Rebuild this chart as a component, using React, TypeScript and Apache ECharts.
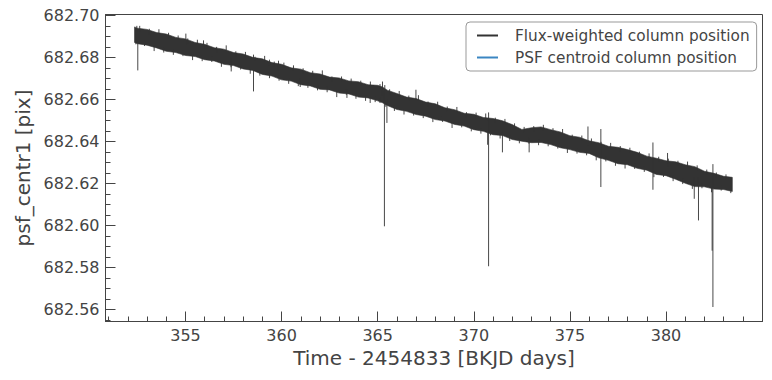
import React, { useEffect, useRef } from "react";
import * as echarts from "echarts";

// Envelope of the dense flux-weighted column position band
const bandT = [352.35, 352.5, 353.0, 353.5, 354.0, 354.5, 355.0, 355.5, 356.0, 356.5, 357.0, 357.5, 358.0, 358.5, 359.0, 359.5, 360.0, 360.5, 361.0, 361.5, 362.0, 362.5, 363.0, 363.5, 364.0, 364.5, 365.0, 365.25, 365.5, 366.0, 366.5, 367.0, 367.5, 368.0, 368.5, 369.0, 369.5, 370.0, 370.5, 371.0, 371.5, 372.0, 372.5, 373.0, 373.5, 374.0, 374.5, 375.0, 375.5, 376.0, 376.5, 377.0, 377.5, 378.0, 378.5, 379.0, 379.5, 380.0, 380.5, 381.0, 381.5, 382.0, 382.5, 383.0, 383.45];
const bandHi = [682.6946, 682.694, 682.6934, 682.6919, 682.6912, 682.6896, 682.6889, 682.6872, 682.6863, 682.6847, 682.684, 682.6824, 682.6817, 682.6801, 682.6794, 682.6776, 682.6768, 682.6751, 682.6745, 682.6728, 682.6722, 682.6707, 682.6703, 682.6689, 682.6685, 682.6671, 682.6668, 682.666, 682.6645, 682.6629, 682.6612, 682.6605, 682.6588, 682.658, 682.6561, 682.6552, 682.6535, 682.653, 682.6515, 682.651, 682.6499, 682.6481, 682.6458, 682.6466, 682.647, 682.6457, 682.6446, 682.6428, 682.6421, 682.6404, 682.6395, 682.6378, 682.6373, 682.6362, 682.6349, 682.6331, 682.6321, 682.6309, 682.6304, 682.629, 682.6281, 682.6259, 682.6249, 682.6235, 682.623];
const bandLo = [682.6872, 682.6866, 682.6859, 682.6846, 682.683, 682.6824, 682.681, 682.6805, 682.679, 682.6784, 682.6768, 682.6762, 682.6746, 682.6739, 682.672, 682.6712, 682.6694, 682.6688, 682.6671, 682.6665, 682.6649, 682.6646, 682.6631, 682.6627, 682.6612, 682.6608, 682.6594, 682.6585, 682.6572, 682.6553, 682.6544, 682.6529, 682.6521, 682.6505, 682.6498, 682.6482, 682.6474, 682.6457, 682.6449, 682.6433, 682.6429, 682.641, 682.6402, 682.6395, 682.6396, 682.6386, 682.6371, 682.6362, 682.6349, 682.6344, 682.6323, 682.6311, 682.6295, 682.629, 682.6273, 682.6264, 682.6244, 682.6238, 682.6221, 682.6202, 682.6186, 682.6185, 682.6174, 682.6172, 682.6163];

// Individual outlier excursions (time, upper end, lower end)
const spikeT = [352.52, 355.02, 355.94, 357.38, 358.54, 359.37, 359.84, 360.97, 363.4, 364.61, 365.25, 365.35, 365.48, 366.99, 370.77, 370.72, 371.49, 372.88, 375.94, 376.61, 379.32, 380.08, 381.47, 381.69, 382.44, 382.4];
const spikeHi = [682.688, 682.6914, 682.6882, 682.68, 682.6814, 682.679, 682.6785, 682.67, 682.665, 682.664, 682.6686, 682.664, 682.66, 682.6647, 682.6539, 682.65, 682.645, 682.642, 682.6472, 682.646, 682.6396, 682.6346, 682.623, 682.623, 682.6293, 682.625];
const spikeLo = [682.6739, 682.686, 682.684, 682.6734, 682.6639, 682.676, 682.674, 682.666, 682.6608, 682.6584, 682.662, 682.5997, 682.6489, 682.66, 682.5807, 682.6385, 682.6349, 682.6349, 682.638, 682.6184, 682.6171, 682.628, 682.6128, 682.6025, 682.5613, 682.5881];

// Short noise excursions above the band (time, tip value)
const hairUpT = [352.47, 352.62, 353.12, 353.62, 354.12, 354.62, 355.12, 355.62, 356.12, 356.62, 357.12, 357.62, 358.12, 358.62, 359.12, 359.62, 360.12, 360.62, 361.12, 361.62, 362.12, 362.62, 363.12, 363.62, 364.12, 364.62, 365.12, 365.37, 365.62, 366.12, 366.62, 367.12, 367.62, 368.12, 368.62, 369.12, 369.62, 370.12, 370.62, 371.12, 371.62, 372.12, 372.62, 373.12, 373.62, 374.12, 374.62, 375.12, 375.62, 376.12, 376.62, 377.12, 377.62, 378.12, 378.62, 379.12, 379.62, 380.12, 380.62, 381.12, 381.62, 382.12, 382.62, 383.12];
const hairUpV = [682.6951, 682.6951, 682.6937, 682.6935, 682.6918, 682.6905, 682.6891, 682.6885, 682.687, 682.6851, 682.6858, 682.683, 682.6827, 682.6804, 682.6808, 682.6781, 682.6776, 682.6763, 682.6749, 682.6737, 682.6739, 682.671, 682.671, 682.67, 682.669, 682.6686, 682.6674, 682.6669, 682.6649, 682.6641, 682.6619, 682.6621, 682.6591, 682.659, 682.6567, 682.6565, 682.654, 682.6538, 682.6534, 682.6514, 682.6508, 682.6487, 682.647, 682.6474, 682.648, 682.6464, 682.646, 682.6433, 682.6429, 682.6415, 682.6399, 682.6394, 682.6379, 682.6371, 682.6352, 682.6344, 682.6328, 682.6319, 682.6309, 682.6305, 682.6287, 682.6267, 682.6253, 682.6244];
// Short noise excursions below the band (time, tip value)
const hairDnT = [352.42, 352.87, 353.37, 353.87, 354.37, 354.87, 355.37, 355.87, 356.37, 356.87, 357.37, 357.87, 358.37, 358.87, 359.37, 359.87, 360.37, 360.87, 361.37, 361.87, 362.37, 362.87, 363.37, 363.87, 364.37, 364.87, 365.12, 365.42, 365.87, 366.37, 366.87, 367.37, 367.87, 368.37, 368.87, 369.37, 369.87, 370.37, 370.87, 371.37, 371.87, 372.37, 372.87, 373.37, 373.87, 374.37, 374.87, 375.37, 375.87, 376.37, 376.87, 377.37, 377.87, 378.37, 378.87, 379.37, 379.87, 380.37, 380.87, 381.37, 381.87, 382.37, 382.87, 383.37];
const hairDnV = [682.6863, 682.6855, 682.6831, 682.6824, 682.6813, 682.6807, 682.6788, 682.6783, 682.6779, 682.6756, 682.6754, 682.6743, 682.6723, 682.6714, 682.6702, 682.669, 682.6675, 682.6664, 682.6656, 682.6644, 682.6635, 682.6612, 682.6623, 682.6604, 682.6594, 682.6588, 682.6584, 682.6566, 682.6546, 682.6529, 682.6524, 682.6512, 682.6493, 682.6494, 682.6465, 682.6468, 682.6449, 682.6438, 682.643, 682.6415, 682.6403, 682.6392, 682.639, 682.6383, 682.6378, 682.6367, 682.6346, 682.6343, 682.6335, 682.6311, 682.6306, 682.6285, 682.6272, 682.627, 682.6256, 682.6231, 682.6232, 682.6212, 682.6198, 682.6175, 682.6178, 682.6159, 682.6167, 682.6155];

const psfT: number[] = [];
const psfV: number[] = [];

const xMajor = [355, 360, 365, 370, 375, 380];
const xMinor = [351, 352, 353, 354, 356, 357, 358, 359, 361, 362, 363, 364, 366, 367, 368, 369, 371, 372, 373, 374, 376, 377, 378, 379, 381, 382, 383, 384];
const yMajor = [682.56, 682.58, 682.6, 682.62, 682.64, 682.66, 682.68, 682.7];
const yMinor = [682.555, 682.565, 682.57, 682.575, 682.585, 682.59, 682.595, 682.605, 682.61, 682.615, 682.625, 682.63, 682.635, 682.645, 682.65, 682.655, 682.665, 682.67, 682.675, 682.685, 682.69, 682.695];

const X_MIN = 350.84;
const X_MAX = 385.02;
const Y_MIN = 682.5544;
const Y_MAX = 682.7005;
const HAIR_LEN = 0.0025;

const FONT = "DejaVu Sans";
const AXIS_COLOR = "#444";
const INK = "#333333";
const PSF_BLUE = "#3b86c2";

export default function App() {
  const ref = useRef<HTMLDivElement>(null);
  useEffect(() => {
    if (!ref.current) return;
    const chart = echarts.init(ref.current, undefined, { renderer: "svg" });

    const spikeData: any[] = [];
    spikeT.forEach((t, i) => {
      spikeData.push([t, spikeHi[i]], [t, spikeLo[i]], [t, "-"]);
    });
    const hairData: any[] = [];
    hairUpT.forEach((t, i) => {
      hairData.push([t, hairUpV[i]], [t, hairUpV[i] - HAIR_LEN], [t, "-"]);
    });
    hairDnT.forEach((t, i) => {
      hairData.push([t, hairDnV[i]], [t, hairDnV[i] + HAIR_LEN], [t, "-"]);
    });

    const baseX = { type: "value", min: X_MIN, max: X_MAX, position: "bottom", splitLine: { show: false } };
    const baseY = { type: "value", min: Y_MIN, max: Y_MAX, position: "left", splitLine: { show: false } };

    chart.setOption({
      animation: false,
      backgroundColor: "#ffffff",
      grid: {
        left: 105.5,
        top: 14.5,
        right: 9.5,
        bottom: 58.5,
        show: true,
        borderColor: AXIS_COLOR,
        borderWidth: 1,
        backgroundColor: "transparent",
      },
      legend: {
        data: ["Flux-weighted column position", "PSF centroid column position"],
        orient: "vertical",
        left: 466,
        top: 22,
        itemWidth: 21,
        itemHeight: 14,
        itemGap: 7,
        padding: [6, 7, 6, 10],
        borderColor: "#999",
        borderWidth: 1,
        borderRadius: 4,
        backgroundColor: "rgba(255,255,255,0.85)",
        itemStyle: { opacity: 0 },
        textStyle: { fontFamily: FONT, fontSize: 15.3, color: "#444", padding: [0, 0, 0, 12] },
      },
      xAxis: [
        {
          ...baseX,
          name: "Time - 2454833 [BKJD days]",
          nameLocation: "middle",
          nameGap: 26,
          nameTextStyle: { fontFamily: FONT, fontSize: 20, color: "#444" },
          axisLine: { show: true, onZero: false, lineStyle: { color: AXIS_COLOR, width: 1 } },
          axisTick: { show: true, inside: true, length: 10, customValues: xMajor, lineStyle: { color: AXIS_COLOR, width: 1 } },
          axisLabel: { show: true, customValues: xMajor, margin: 6, fontFamily: FONT, fontSize: 16, color: "#444", formatter: (v: number) => String(Math.round(v)) },
        },
        {
          ...baseX,
          axisLine: { show: false, onZero: false },
          axisTick: { show: true, inside: true, length: 5, customValues: xMinor, lineStyle: { color: AXIS_COLOR, width: 1 } },
          axisLabel: { show: false },
        },
      ],
      yAxis: [
        {
          ...baseY,
          name: "psf_centr1 [pix]",
          nameLocation: "middle",
          nameGap: 73,
          nameTextStyle: { fontFamily: FONT, fontSize: 20, color: "#444" },
          axisLine: { show: true, onZero: false, lineStyle: { color: AXIS_COLOR, width: 1 } },
          axisTick: { show: true, inside: true, length: 10, customValues: yMajor, lineStyle: { color: AXIS_COLOR, width: 1 } },
          axisLabel: { show: true, customValues: yMajor, margin: 6, fontFamily: FONT, fontSize: 16, color: "#444", formatter: (v: number) => v.toFixed(2) },
        },
        {
          ...baseY,
          axisLine: { show: false, onZero: false },
          axisTick: { show: true, inside: true, length: 5, customValues: yMinor, lineStyle: { color: AXIS_COLOR, width: 1 } },
          axisLabel: { show: false },
        },
      ],
      series: [
        {
          type: "custom",
          name: "band",
          silent: true,
          xAxisIndex: 0,
          yAxisIndex: 0,
          data: bandT.map((t, i) => [t, bandLo[i], bandHi[i]]),
          encode: { x: 0, y: [1, 2] },
          renderItem: (params: any, api: any) => {
            if (params.dataIndex !== 0) return null;
            const top = bandT.map((t, i) => api.coord([t, bandHi[i]]));
            const bot = bandT.map((t, i) => api.coord([t, bandLo[i]])).reverse();
            return {
              type: "polygon",
              shape: { points: top.concat(bot) },
              style: { fill: INK, stroke: INK, lineWidth: 0.6 },
            };
          },
          z: 2,
        },
        {
          type: "line",
          name: "Flux-weighted column position",
          xAxisIndex: 0,
          yAxisIndex: 0,
          data: spikeData,
          showSymbol: false,
          symbol: "none",
          connectNulls: false,
          color: INK,
          lineStyle: { color: INK, width: 0.9 },
          z: 3,
        },
        {
          type: "line",
          name: "band-noise",
          xAxisIndex: 0,
          yAxisIndex: 0,
          data: hairData,
          showSymbol: false,
          symbol: "none",
          connectNulls: false,
          silent: true,
          color: INK,
          lineStyle: { color: INK, width: 0.9 },
          z: 3,
        },
        {
          type: "line",
          name: "PSF centroid column position",
          xAxisIndex: 0,
          yAxisIndex: 0,
          data: psfT.map((t, i) => [t, psfV[i]]),
          showSymbol: false,
          symbol: "none",
          color: PSF_BLUE,
          lineStyle: { color: PSF_BLUE, width: 0.8 },
          z: 3,
        },
      ],
    });
    return () => chart.dispose();
  }, []);
  return (
    <div
      ref={ref}
      style={{ position: "fixed", left: 0, top: 0, width: 772, height: 380, background: "#fff" }}
    />
  );
}
